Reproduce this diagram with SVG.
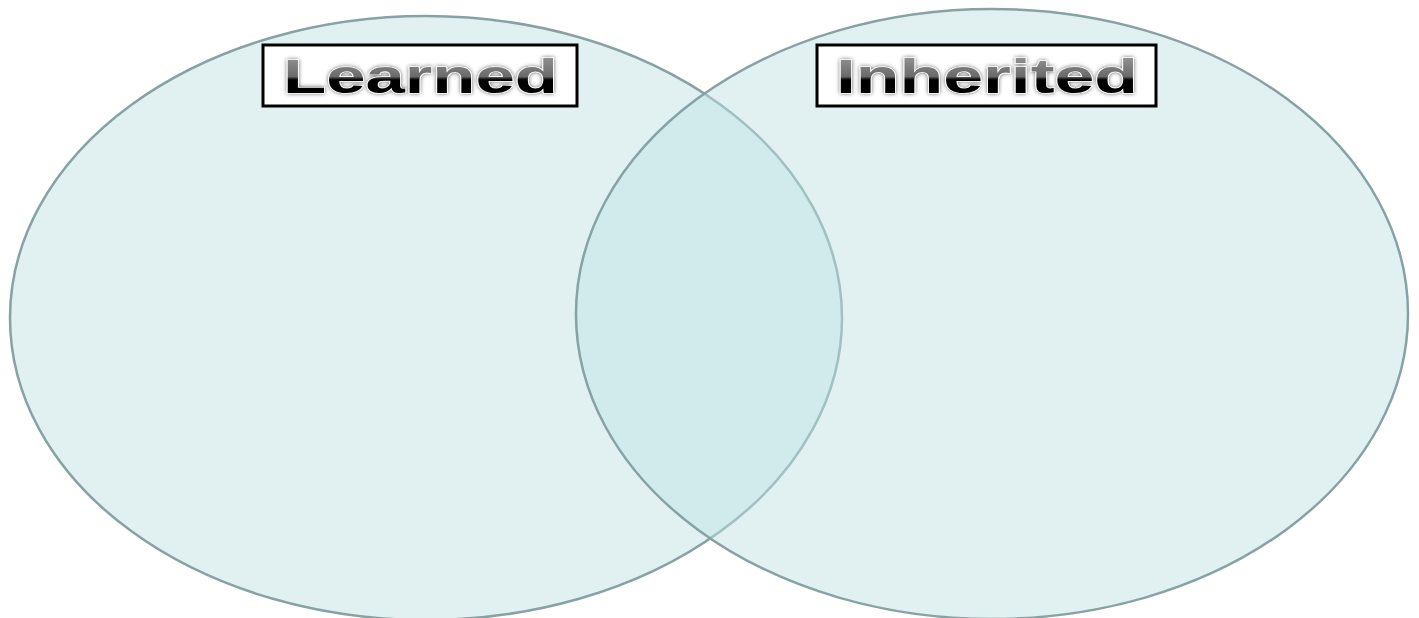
<svg xmlns="http://www.w3.org/2000/svg" width="1419" height="618" viewBox="0 0 1419 618">
<defs>
<linearGradient id="tg" x1="0" y1="0" x2="0" y2="1">
<stop offset="0" stop-color="#a0a0a0"/>
<stop offset="0.5" stop-color="#6a6a6a"/>
<stop offset="0.56" stop-color="#050505"/>
<stop offset="1" stop-color="#000"/>
</linearGradient>
<filter id="glow" x="-10%" y="-30%" width="120%" height="160%">
<feGaussianBlur in="SourceAlpha" stdDeviation="2"/>
<feComponentTransfer><feFuncA type="linear" slope="0.6"/></feComponentTransfer>
<feMerge><feMergeNode/><feMergeNode in="SourceGraphic"/></feMerge>
</filter>
</defs>
<style>
.circ{fill:rgb(191,225,227);fill-opacity:0.47;stroke:#86a2a4;stroke-width:2.5}
.box{fill:#fff;stroke:#000;stroke-width:3}
.lbl{font-family:"Liberation Sans",Arial,sans-serif;font-weight:bold;font-size:48px;fill:url(#tg);stroke:#fff;stroke-width:1.2;paint-order:stroke;filter:url(#glow)}
</style>
<rect width="1419" height="618" fill="#fff"/>
<g id="learned-set"><ellipse class="circ" cx="426" cy="318" rx="416" ry="302"/></g>
<g id="inherited-set"><ellipse class="circ" cx="992" cy="314" rx="416" ry="305"/></g>
<g id="learned-label">
<rect class="box" x="263" y="45" width="314" height="61"/>
<text class="lbl" x="283" y="93" textLength="275" lengthAdjust="spacingAndGlyphs">Learned</text>
</g>
<g id="inherited-label">
<rect class="box" x="817" y="45" width="339" height="61"/>
<text class="lbl" x="836" y="93" textLength="302" lengthAdjust="spacingAndGlyphs">Inherited</text>
</g>
<g id="connectors"/>
</svg>
